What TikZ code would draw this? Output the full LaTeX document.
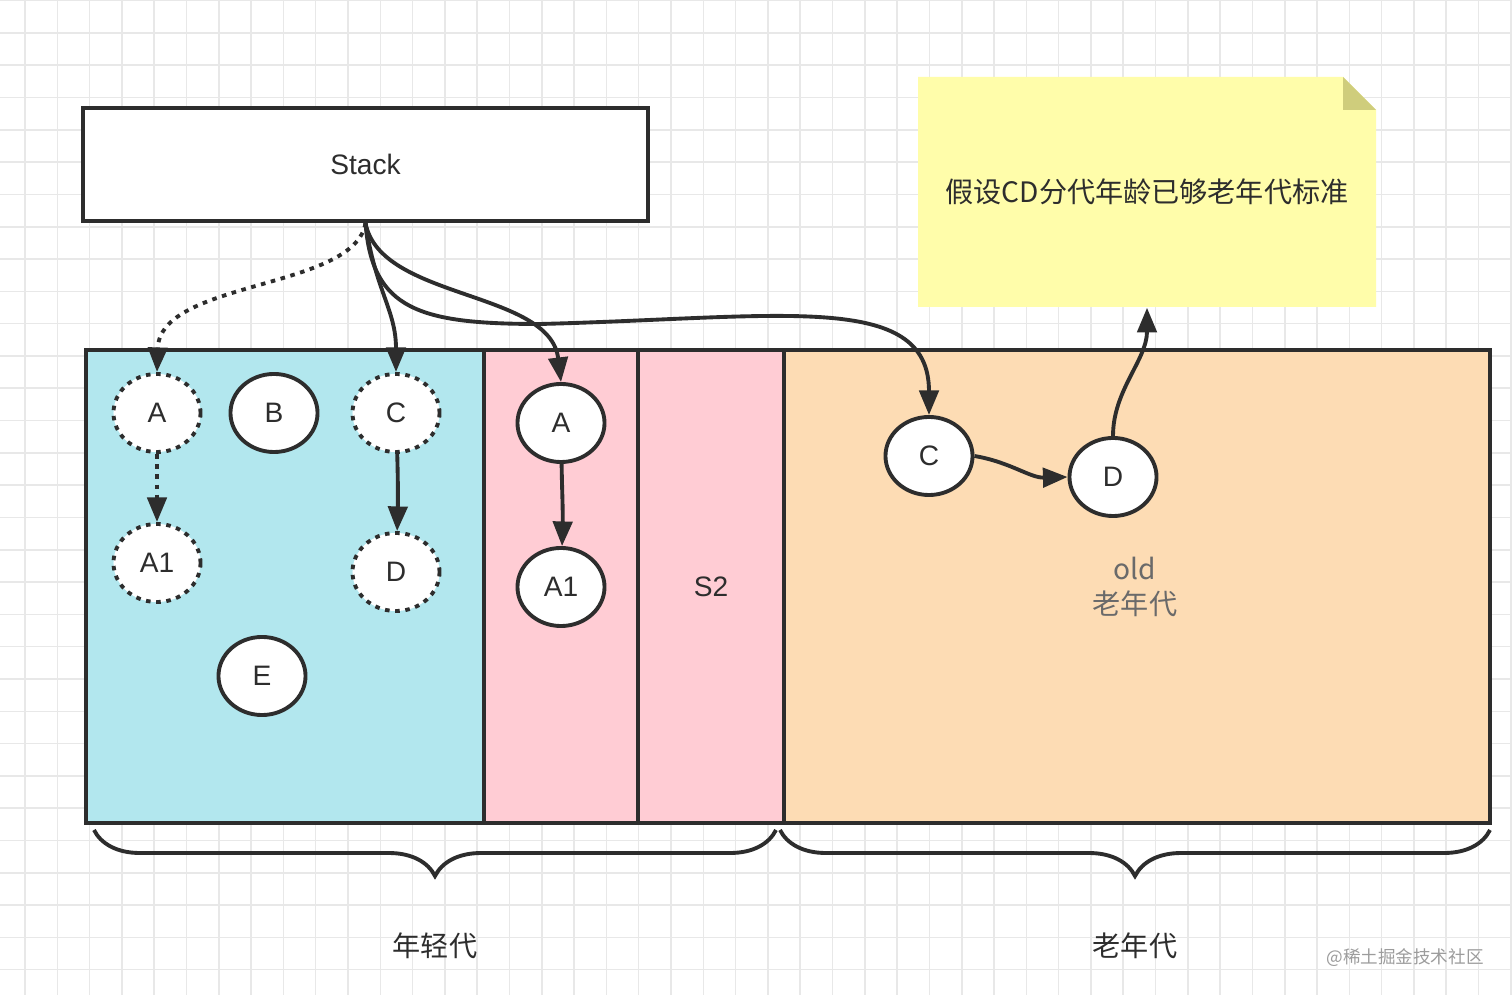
\documentclass[tikz,border=0pt]{standalone}
\usepackage{fontspec}
\setmainfont{Liberation Sans}
\newfontfamily\cjk{Noto Sans CJK SC}
\usepackage{tikz}
\usetikzlibrary{arrows.meta,positioning,shapes.geometric,decorations.pathreplacing}
\definecolor{ink}{HTML}{2D2D2D}
\definecolor{ink2}{HTML}{6A6A6A}
\definecolor{gridc}{HTML}{E8E8E8}
\definecolor{young}{HTML}{B2E7EE}
\definecolor{surv}{HTML}{FFCCD4}
\definecolor{old}{HTML}{FDDCB4}
\definecolor{memo}{HTML}{FFFDAA}
\definecolor{memo2}{HTML}{CFCD7C}

\begin{document}
\begin{tikzpicture}[x=0.01cm,y=-0.01cm,font=\fontsize{8}{10}\selectfont,
  obj/.style={ellipse,draw=ink,line width=1.1pt,fill=white,minimum width=0.87cm,minimum height=0.78cm,inner sep=0pt,text=ink},
  gone/.style={obj,dash pattern=on 1.3pt off 1.6pt},
  ref/.style={draw=ink,line width=1.1pt,-{Triangle[length=7pt,width=5.5pt]}},
  brc/.style={draw=ink,line width=1.1pt,decorate,decoration={brace,mirror,amplitude=0.46cm}}]
  \useasboundingbox (0,0) rectangle (1512,995);
  % grid paper
  \fill[white] (0,0) rectangle (1512,995);
  \foreach \x in {25,57.3,...,1512} \draw[gridc,line width=0.45pt] (\x,0) -- (\x,995);
  \foreach \y in {0.7,33,...,995} \draw[gridc,line width=0.45pt] (0,\y) -- (1512,\y);

  % heap areas
  \fill[young] (86,350) rectangle (484,823);
  \fill[surv] (484,350) rectangle (784,823);
  \fill[old] (784,350) rectangle (1490,823);
  \draw[ink,line width=1.1pt] (86,350) rectangle (1490,823);
  \foreach \x in {484,638,784} \draw[ink,line width=1.1pt] (\x,350) -- (\x,823);
  \node[text=ink] (s2) at (711,587) {S2};
  \node[text=ink2,align=center,font=\fontsize{8}{10}\cjk] (oldlbl) at (1135,587) {old\\老年代};

  % note
  \fill[memo] (918,77) -- (1343,77) -- (1376,110) -- (1376,307) -- (918,307) -- cycle;
  \fill[memo2] (1343,77) -- (1343,110) -- (1376,110) -- cycle;
  \node[minimum width=4.58cm,minimum height=2.3cm,text=ink,font=\fontsize{8}{10}\cjk] (note) at (1147,192) {假设CD分代年龄已够老年代标准};

  \node[draw=ink,line width=1.1pt,fill=white,minimum width=5.65cm,minimum height=1.13cm,text=ink] (stack) at (365.5,164.5) {Stack};

  % objects
  \node[gone] (ya) at (157,413) {A};
  \node[obj] (yb) at (274,413) {B};
  \node[gone] (yc) at (396,413) {C};
  \node[gone] (ya1) at (157,563) {A1};
  \node[gone] (yd) at (396,572) {D};
  \node[obj] (ye) at (262,676) {E};
  \node[obj] (sa) at (561,423) {A};
  \node[obj] (sa1) at (561,587) {A1};
  \node[obj] (oc) at (929,456) {C};
  \node[obj] (od) at (1113,477) {D};

  % references
  \draw[ref,dash pattern=on 1.3pt off 1.6pt] (stack.south) .. controls (355,290) and (160,280) .. (ya.north);
  \draw[ref] (stack.south) .. controls (375,290) and (396,310) .. (yc.north);
  \draw[ref] (stack.south) .. controls (380,300) and (550,290) .. (sa.north);
  \draw[ref] (stack.south) .. controls (372,310) and (420,324) .. (540,324) .. controls (780,318) and (929,290) .. (oc.north);
  \draw[ref,dash pattern=on 1.3pt off 1.6pt] (ya) -- (ya1);
  \draw[ref] (yc) .. controls (398,480) and (398,500) .. (yd);
  \draw[ref] (sa) .. controls (562,490) and (563,510) .. (sa1);
  \draw[ref] (oc.east) .. controls (1010,462) and (1030,478) .. (od.west);
  \draw[ref] (od.north) .. controls (1113,390) and (1147,360) .. (note.south);

  % generations
  \draw[brc] (94,830) -- (776,830);
  \draw[brc] (780,830) -- (1490,830);
  \node[text=ink,font=\fontsize{8}{10}\cjk] (younglbl) at (435,946) {年轻代};
  \node[text=ink,font=\fontsize{8}{10}\cjk] (tenuredlbl) at (1135,946) {老年代};
  \node[text=gridc!40!ink2,font=\fontsize{5}{6}\cjk] (mark) at (1405,958) {@稀土掘金技术社区};
\end{tikzpicture}
\end{document}
